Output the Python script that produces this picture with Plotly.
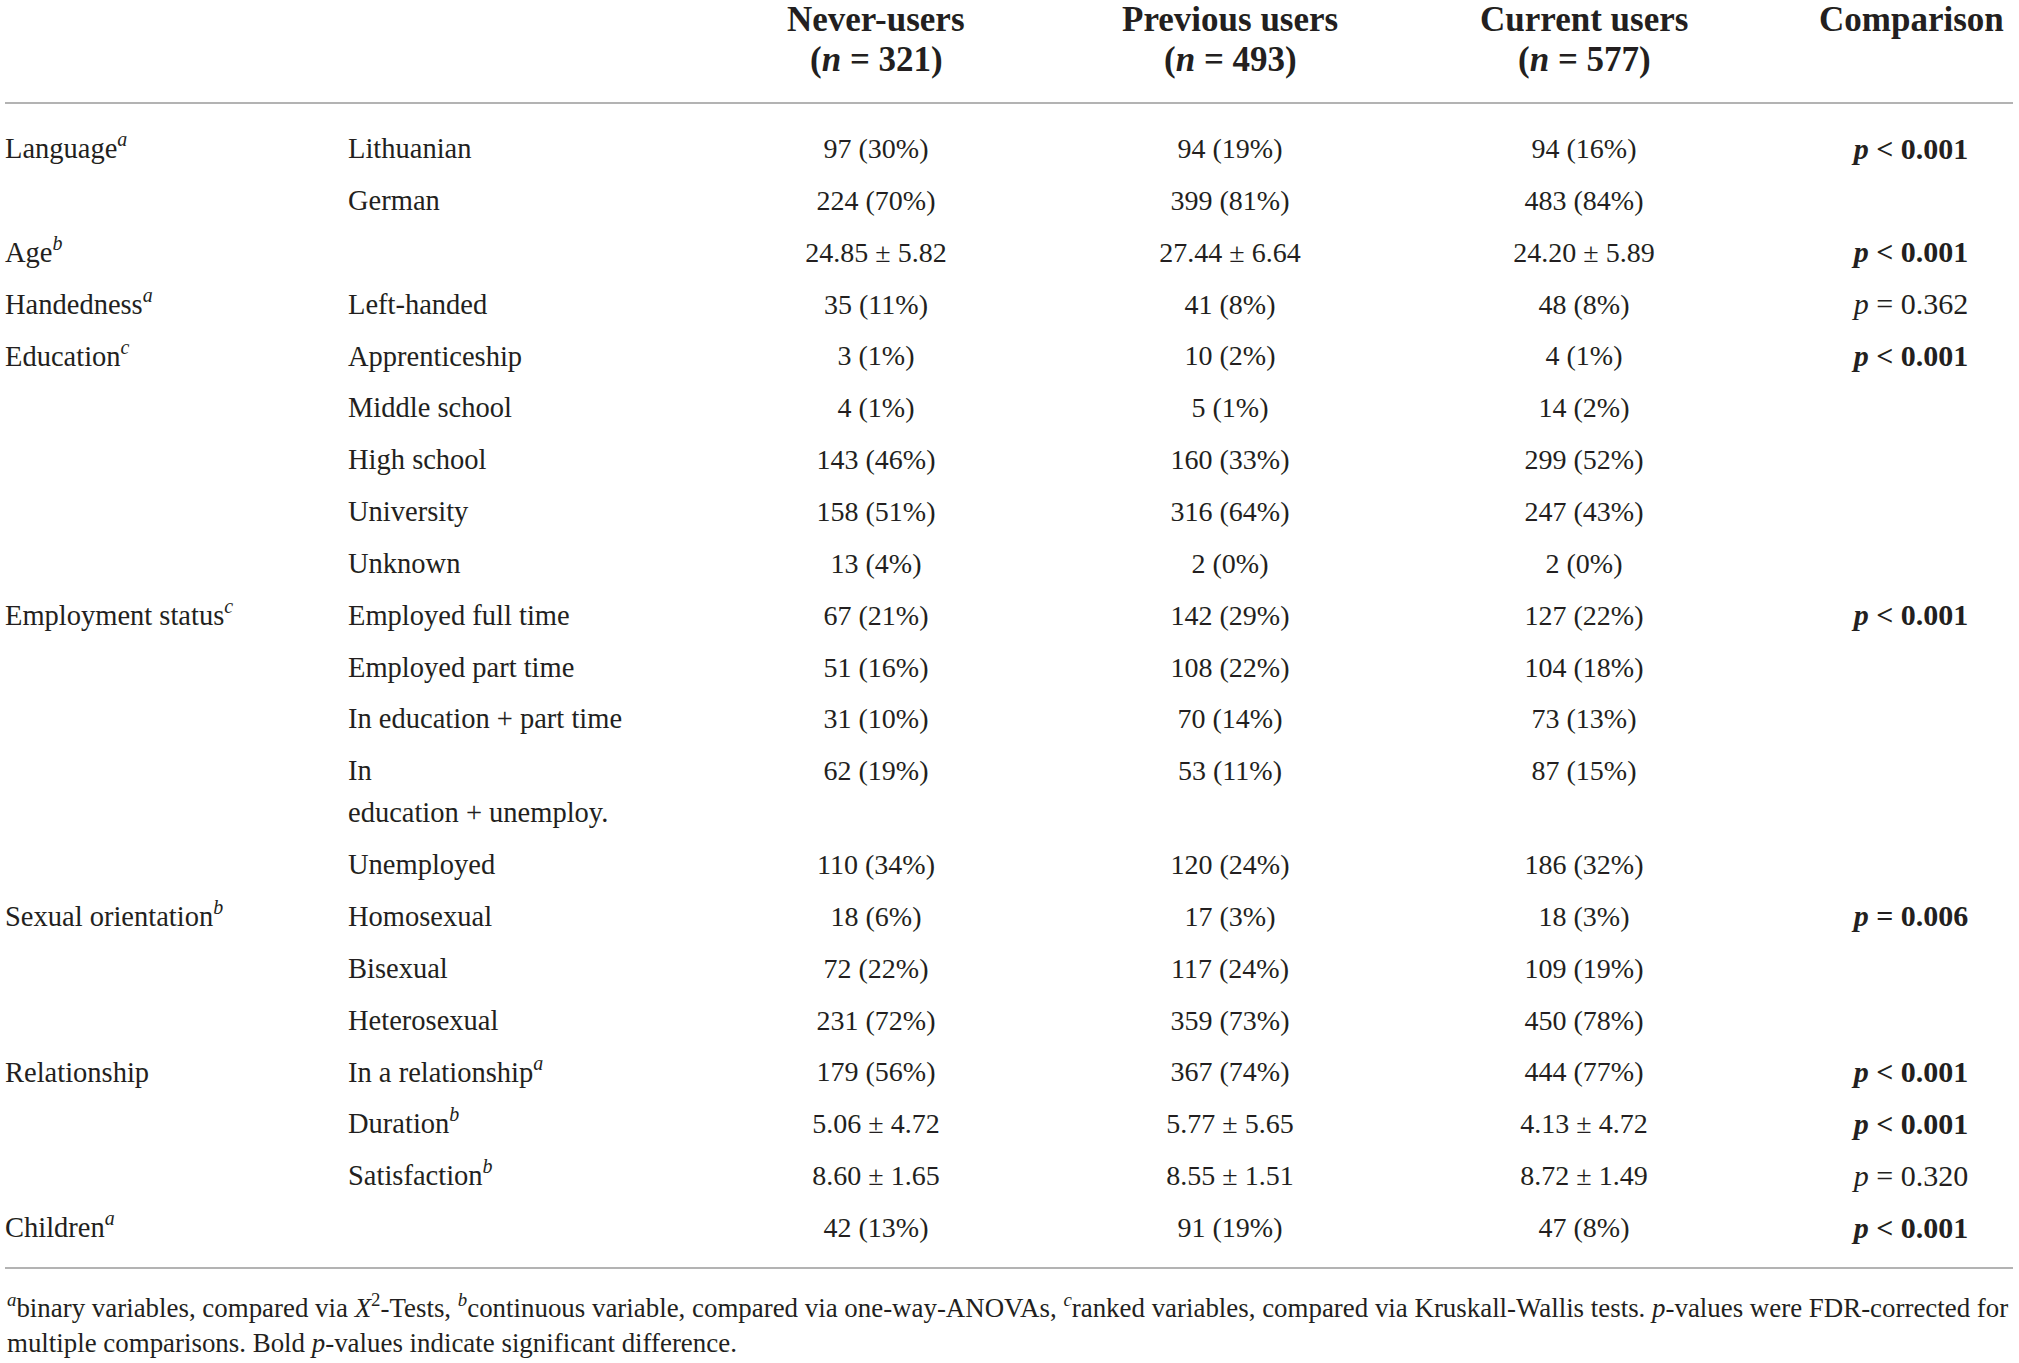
import plotly.graph_objects as go

# header columns
col_titles = ["Never-users", "Previous users", "Current users", "Comparison"]
col_n = [321, 493, 577, None]

# table body
groups = ["Language<sup><i>a</i></sup>", "", "Age<sup><i>b</i></sup>", "Handedness<sup><i>a</i></sup>",
          "Education<sup><i>c</i></sup>", "", "", "", "",
          "Employment status<sup><i>c</i></sup>", "", "", "", "",
          "Sexual orientation<sup><i>b</i></sup>", "", "",
          "Relationship", "", "", "Children<sup><i>a</i></sup>"]
subcats = ["Lithuanian", "German", "", "Left-handed",
           "Apprenticeship", "Middle school", "High school", "University", "Unknown",
           "Employed full time", "Employed part time", "In education + part time",
           "In\neducation + unemploy.", "Unemployed",
           "Homosexual", "Bisexual", "Heterosexual",
           "In a relationship<sup><i>a</i></sup>", "Duration<sup><i>b</i></sup>",
           "Satisfaction<sup><i>b</i></sup>", ""]
never = ["97 (30%)", "224 (70%)", "24.85 ± 5.82", "35 (11%)",
         "3 (1%)", "4 (1%)", "143 (46%)", "158 (51%)", "13 (4%)",
         "67 (21%)", "51 (16%)", "31 (10%)", "62 (19%)", "110 (34%)",
         "18 (6%)", "72 (22%)", "231 (72%)",
         "179 (56%)", "5.06 ± 4.72", "8.60 ± 1.65", "42 (13%)"]
previous = ["94 (19%)", "399 (81%)", "27.44 ± 6.64", "41 (8%)",
            "10 (2%)", "5 (1%)", "160 (33%)", "316 (64%)", "2 (0%)",
            "142 (29%)", "108 (22%)", "70 (14%)", "53 (11%)", "120 (24%)",
            "17 (3%)", "117 (24%)", "359 (73%)",
            "367 (74%)", "5.77 ± 5.65", "8.55 ± 1.51", "91 (19%)"]
current = ["94 (16%)", "483 (84%)", "24.20 ± 5.89", "48 (8%)",
           "4 (1%)", "14 (2%)", "299 (52%)", "247 (43%)", "2 (0%)",
           "127 (22%)", "104 (18%)", "73 (13%)", "87 (15%)", "186 (32%)",
           "18 (3%)", "109 (19%)", "450 (78%)",
           "444 (77%)", "4.13 ± 4.72", "8.72 ± 1.49", "47 (8%)"]
p_sign = ["<", "", "<", "=", "<", "", "", "", "", "<", "", "", "", "",
          "=", "", "", "<", "<", "=", "<"]
p_value = ["0.001", "", "0.001", "0.362", "0.001", "", "", "", "", "0.001", "", "", "", "",
           "0.006", "", "", "0.001", "0.001", "0.320", "0.001"]
p_bold = [True, False, True, False, True, False, False, False, False, True, False, False, False, False,
          True, False, False, True, True, False, True]

footnote = ["<sup><i>a</i></sup>binary variables, compared via <i>X</i><sup>2</sup>-Tests, "
            "<sup><i>b</i></sup>continuous variable, compared via one-way-ANOVAs, "
            "<sup><i>c</i></sup>ranked variables, compared via Kruskall-Wallis tests. "
            "<i>p</i>-values were FDR-corrected for",
            "multiple comparisons. Bold <i>p</i>-values indicate significant difference."]

# axes in page pixels (body margin is removed after plotting)
W, H = 2019, 1363
FONT = "Liberation Serif"
INK = "#231f20"
x_group, x_sub = 5, 348
x_cols = [876, 1230, 1584, 1911]
y0, step, wrap_step = 151, 51.85, 42

# row positions (wrapped labels push the following rows down)
row_y = []
y = y0
for s in subcats:
    row_y.append(y)
    y += step + wrap_step * s.count("\n")


def text_trace(xs, ys, texts, pos, size):
    # skip empty cells so no blank text nodes get drawn
    keep = [i for i, t in enumerate(texts) if t]
    return go.Scatter(x=[xs[i] for i in keep], y=[ys[i] for i in keep],
                      text=[texts[i] for i in keep], mode="text",
                      textposition=pos, cliponaxis=False,
                      textfont=dict(family=FONT, size=size, color=INK),
                      hoverinfo="skip", showlegend=False)


fig = go.Figure()

# left label columns
lab_x, lab_y, lab_t = [], [], []
for g, s, ry in zip(groups, subcats, row_y):
    if g:
        lab_x.append(x_group); lab_y.append(ry); lab_t.append(g)
    for j, part in enumerate(s.split("\n")):
        if part:
            lab_x.append(x_sub); lab_y.append(ry + j * wrap_step); lab_t.append(part)
fig.add_trace(text_trace(lab_x, lab_y, lab_t, "middle right", 28.5))

# value columns
for xc, vals in zip(x_cols[:3], [never, previous, current]):
    fig.add_trace(text_trace([xc] * len(vals), row_y, vals, "middle center", 28))

# comparison column
comp = []
for sgn, v, b in zip(p_sign, p_value, p_bold):
    if not v:
        comp.append("")
        continue
    t = "<i>p</i> %s %s" % ("&lt;" if sgn == "<" else "=", v)
    comp.append("<b>%s</b>" % t if b else t)
fig.add_trace(text_trace([x_cols[3]] * len(comp), row_y, comp, "middle center", 30))

# header (two separate lines)
for xc, title, n in zip(x_cols, col_titles, col_n):
    fig.add_annotation(x=xc, y=19, text="<b>%s</b>" % title, showarrow=False,
                       xanchor="center", yanchor="middle",
                       font=dict(family=FONT, size=35, color=INK))
    if n is not None:
        fig.add_annotation(x=xc, y=59, text="<b>(<i>n</i> = %d)</b>" % n, showarrow=False,
                           xanchor="center", yanchor="middle",
                           font=dict(family=FONT, size=35, color=INK))

# rules
for ry in [103, 1268]:
    fig.add_shape(type="line", x0=5, x1=2013, y0=ry, y1=ry,
                  line=dict(color="#9a9a9a", width=1.5))

# footnote
for k, line in enumerate(footnote):
    fig.add_annotation(x=5, y=1306 + 37 * k, text=line, showarrow=False,
                       xanchor="left", yanchor="middle",
                       font=dict(family=FONT, size=26.9, color=INK))

fig.update_layout(
    width=W, height=H,
    margin=dict(l=0, r=0, t=0, b=0),
    paper_bgcolor="white", plot_bgcolor="white",
    xaxis=dict(range=[0, W], visible=False, fixedrange=True),
    yaxis=dict(range=[H, 0], visible=False, fixedrange=True),
)
fig.write_html("out.html", config={"displayModeBar": False},
               post_script="document.body.style.margin='0';")
